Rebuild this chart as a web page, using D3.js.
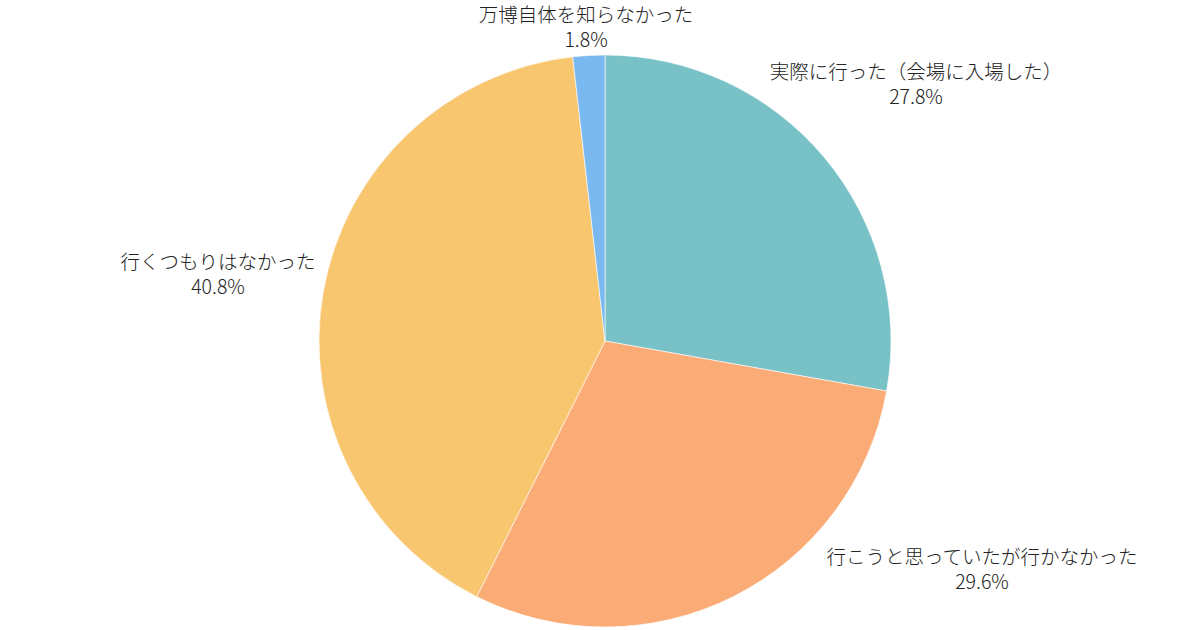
<!DOCTYPE html>
<html>
<head>
<meta charset="utf-8">
<script src="https://cdn.jsdelivr.net/npm/d3@7"></script>
<style>
  html, body { margin: 0; padding: 0; background: #ffffff; }
  svg { display: block; }
  text { font-family: "Noto Sans CJK JP", "Noto Sans", sans-serif; fill: #222222; font-weight: 300; }
</style>
</head>
<body>
<svg id="chart" width="1200" height="630"></svg>
<script>
// ---- data ----
const categories = [
  "実際に行った（会場に入場した）",
  "行こうと思っていたが行かなかった",
  "行くつもりはなかった",
  "万博自体を知らなかった"
];
const values = [27.8, 29.6, 40.8, 1.8];
const valueLabels = ["27.8%", "29.6%", "40.8%", "1.8%"];

// ---- style / layout ----
const colors = ["#78C2C7", "#FAAB76", "#F8C66F", "#7AB8F0"];
const cx = 605, cy = 341, radius = 286;
// label centre offsets relative to pie centre (layout only)
const labelOffsets = [[311, -258], [377, 227], [-387, -68], [-19, -315]];

const svg = d3.select("#chart");
const g = svg.append("g").attr("transform", `translate(${cx},${cy})`);

const pie = d3.pie().sort(null).value(d => d.value);
const arc = d3.arc().innerRadius(0).outerRadius(radius);

const data = categories.map((c, i) => ({ name: c, value: values[i], label: valueLabels[i], i }));
const arcs = pie(data);

g.selectAll("path.slice")
  .data(arcs)
  .join("path")
  .attr("class", "slice")
  .attr("d", arc)
  .attr("fill", d => colors[d.data.i])
  .attr("stroke", "#ffffff")
  .attr("stroke-width", 0.6);

const lbl = g.selectAll("text.label")
  .data(arcs)
  .join("text")
  .attr("class", "label")
  .attr("text-anchor", "middle")
  .attr("font-size", 19.5)
  .attr("transform", d => `translate(${labelOffsets[d.data.i][0]},${labelOffsets[d.data.i][1]})`);

lbl.append("tspan")
  .attr("x", 0)
  .attr("y", -12.5)
  .attr("dy", "0.42em")
  .text(d => d.data.name);

lbl.append("tspan")
  .attr("x", 0)
  .attr("y", 12.5)
  .attr("dy", "0.42em")
  .text(d => d.data.label);
</script>
</body>
</html>
